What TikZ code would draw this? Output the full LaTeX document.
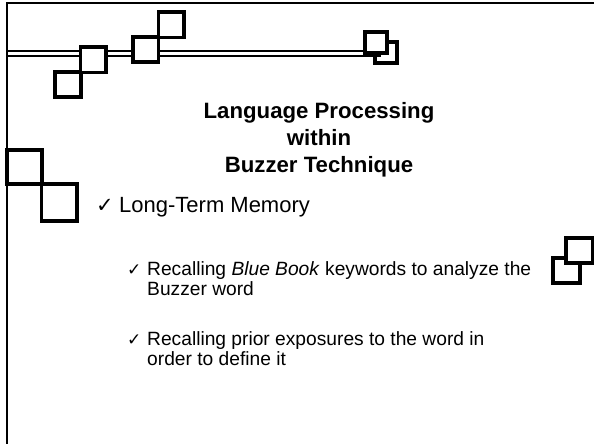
\documentclass[tikz,border=0pt]{standalone}
\usepackage{fontspec}
\setmainfont{Liberation Sans}
\newfontfamily\symfont{DejaVu Sans}
\begin{document}
\begin{tikzpicture}[x=1pt,y=-1pt,
  frame/.style={line width=2.4pt,line cap=rect},
  deco/.style={draw=black,fill=white,line width=3.2pt},
  title/.style={anchor=base,font=\bfseries\fontsize{22.2}{26}\selectfont,inner sep=0pt},
  lvlone/.style={anchor=base west,font=\fontsize{22}{26}\selectfont,inner sep=0pt},
  lvltwo/.style={anchor=base west,font=\fontsize{19.2}{22}\selectfont,inner sep=0pt},
  tick/.style={anchor=base west,inner sep=0pt}]
\useasboundingbox (0,0) rectangle (594,444);
% frame
\coordinate (tl) at (7,3);
\coordinate (tr) at (594,3);
\coordinate (bl) at (7,444);
\draw[frame] (tr) -- (tl) -- (bl);
% double rule
\coordinate (d1a) at (7,51.5);
\coordinate (d1b) at (381,51.5);
\coordinate (d2a) at (7,56.5);
\coordinate (d2b) at (381,56.5);
\draw[line width=2pt] (d1a) -- (d1b);
\draw[line width=2pt] (d2a) -- (d2b);
% squares top-left
\draw[deco] (55,72) rectangle (81,97);
\draw[deco] (80.5,47) rectangle (106,72.5);
\draw[deco] (133,37) rectangle (158.5,62);
\draw[deco] (158.5,12) rectangle (184,37.5);
% small pair top-right
\draw[line width=3.2pt] (375,42) rectangle (397,63);
\draw[deco] (365,32) rectangle (387,53);
% left pair
\draw[deco] (7,150) rectangle (42,184);
\draw[deco] (41.5,184) rectangle (77,221);
% right pair
\draw[deco] (553,258) rectangle (580,283);
\draw[deco] (566,238) rectangle (592.5,263);
% title
\node[title] (t1) at (319,118) {Language Processing};
\node[title] (t2) at (319,145) {within};
\node[title] (t3) at (319,172) {Buzzer Technique};
% level one
\node[tick,font=\symfont\fontsize{21}{24}\selectfont] (c1) at (96,212) {✓};
\node[lvlone] (l1) at (119,212) {Long-Term Memory};
% level two
\node[tick,font=\symfont\fontsize{17}{20}\selectfont] (c2) at (127,275) {✓};
\node[lvltwo] (l2a) at (147,275) {Recalling \textit{Blue Book} keywords to analyze the};
\node[lvltwo] (l2b) at (147,295) {Buzzer word};
\node[tick,font=\symfont\fontsize{17}{20}\selectfont] (c3) at (127,345) {✓};
\node[lvltwo] (l3a) at (147,345) {Recalling prior exposures to the word in};
\node[lvltwo] (l3b) at (147,365) {order to define it};
\end{tikzpicture}
\end{document}
